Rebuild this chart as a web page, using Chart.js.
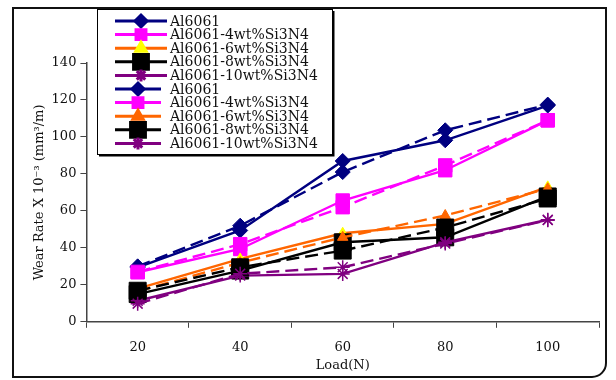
<!DOCTYPE html>
<html>
<head>
<meta charset="utf-8">
<script src="https://cdn.jsdelivr.net/npm/chart.js@4"></script>
<style>
  body { margin: 0; background: #fff; }
  #wrap { width: 616px; height: 380px; }
</style>
</head>
<body>
<div id="wrap"><canvas id="myChart" width="616" height="380"></canvas></div>
<script>
var loads = ['20', '40', '60', '80', '100'];
var seriesNames = ['Al6061', 'Al6061-4wt%Si3N4', 'Al6061-6wt%Si3N4', 'Al6061-8wt%Si3N4', 'Al6061-10wt%Si3N4'];
// solid lines
var al6061A = [29.5, 49.4, 87, 98.2, 117];
var si4A = [26.8, 39.4, 65.6, 82, 109];
var si6A = [17.9, 34, 47.9, 53, 73];
var si8A = [15, 27.7, 43, 45.7, 67.8];
var si10A = [11.4, 25, 25.9, 43, 55.2];
// dashed lines
var al6061B = [30, 52, 81, 103.6, 117.5];
var si4B = [27, 42, 62, 84.6, 109];
var si6B = [16.5, 32, 45.7, 57.5, 72];
var si8B = [16.8, 29.5, 38.5, 51, 66.7];
var si10B = [9.8, 26, 29.5, 42.3, 55];
var yTicks = [0, 20, 40, 60, 80, 100, 120, 140];

var serif = "'DejaVu Serif', serif";

function mk(label, values, color, pointStyle, radius, fill, dash, idx) {
  return {
    label: label,
    data: values,
    borderColor: color,
    backgroundColor: fill,
    pointBackgroundColor: fill,
    pointBorderColor: pointStyle === 'star' ? color : fill,
    pointStyle: pointStyle,
    pointRadius: radius,
    pointBorderWidth: pointStyle === 'star' ? 1.5 : 1,
    borderWidth: 2.4,
    borderDash: dash,
    tension: 0,
    order: 10 - idx
  };
}

var D = [13, 6];
var datasets = [
  mk(seriesNames[0], al6061A, '#000080', 'rectRot', 7.5, '#000080', [], 0),
  mk(seriesNames[1], si4A, '#ff00ff', 'rect', 9.5, '#ff00ff', [], 1),
  mk(seriesNames[2], si6A, '#ff6600', 'triangle', 6, '#ffff00', [], 2),
  mk(seriesNames[3], si8A, '#000000', 'rect', 12, '#000000', [], 3),
  mk(seriesNames[4], si10A, '#800080', 'star', 7, '#800080', [], 4),
  mk(seriesNames[0], al6061B, '#000080', 'rectRot', 7.5, '#000080', D, 5),
  mk(seriesNames[1], si4B, '#ff00ff', 'rect', 9.5, '#ff00ff', D, 6),
  mk(seriesNames[2], si6B, '#ff6600', 'triangle', 6, '#ff6600', D, 7),
  mk(seriesNames[3], si8B, '#000000', 'rect', 12, '#000000', D, 8),
  mk(seriesNames[4], si10B, '#800080', 'star', 7, '#800080', D, 9)
];

// outer frame and boxed legend
var framePlugin = {
  id: 'frame',
  afterDraw: function(chart) {
    var ctx = chart.ctx;
    ctx.save();
    ctx.strokeStyle = '#111';
    ctx.lineWidth = 2;
    ctx.beginPath();
    ctx.roundRect(13, 8, 593, 369, [0, 0, 14, 0]);
    ctx.stroke();

    // legend box
    var bx = 97, by = 9, bw = 235, bh = 145;
    ctx.fillStyle = '#fff';
    ctx.fillRect(bx, by, bw, bh);
    ctx.strokeStyle = '#000';
    ctx.lineWidth = 1;
    ctx.strokeRect(bx + 0.5, by + 0.5, bw, bh);
    ctx.lineWidth = 2;
    ctx.beginPath();
    ctx.moveTo(bx + 2, by + bh + 1.5);
    ctx.lineTo(bx + bw + 1.5, by + bh + 1.5);
    ctx.lineTo(bx + bw + 1.5, by + 2);
    ctx.stroke();

    ctx.font = '14px ' + serif;
    ctx.textBaseline = 'middle';
    chart.data.datasets.forEach(function(ds, i) {
      var y = by + 12 + i * 13.6;
      var x1 = bx + 18, x2 = i < 5 ? bx + 70 : bx + 64;
      ctx.save();
      ctx.strokeStyle = ds.borderColor;
      ctx.lineWidth = 3;
      ctx.setLineDash([]);
      ctx.beginPath();
      ctx.moveTo(x1, y);
      ctx.lineTo(x2, y);
      ctx.stroke();
      ctx.fillStyle = ds.pointBackgroundColor;
      ctx.strokeStyle = ds.pointBorderColor;
      var r = 6;
      if (ds.pointStyle === 'rect') r = ds.pointRadius > 10 ? 10.5 : 7;
      Chart.helpers.drawPoint(ctx, {
        pointStyle: ds.pointStyle,
        radius: r,
        rotation: 0,
        borderWidth: ds.pointBorderWidth
      }, (x1 + x2) / 2, y);
      ctx.restore();
      ctx.fillStyle = '#111';
      ctx.fillText(ds.label, bx + 73, y + 1);
    });
    ctx.restore();
  }
};

var ctx = document.getElementById('myChart').getContext('2d');
var chart = new Chart(ctx, {
  type: 'line',
  data: { labels: loads, datasets: datasets },
  options: {
    responsive: false,
    animation: false,
    layout: { padding: { left: 32, right: 17, top: 63, bottom: 7 } },
    plugins: {
      legend: { display: false },
      tooltip: { enabled: false }
    },
    scales: {
      x: {
        offset: true,
        grid: { offset: true, drawOnChartArea: false, color: '#444', tickLength: 6 },
        border: { color: '#444', width: 1.5 },
        ticks: { color: '#111', font: { family: serif, size: 13 }, padding: 12 },
        title: { display: true, text: 'Load(N)', color: '#111', font: { family: serif, size: 13 }, padding: { top: -10, bottom: 0 } }
      },
      y: {
        min: 0,
        max: 140,
        afterBuildTicks: function(axis) {
          axis.ticks = yTicks.map(function(v) { return { value: v }; });
        },
        grid: { drawOnChartArea: false, color: '#444', tickLength: 6 },
        border: { color: '#444', width: 1.5 },
        ticks: { color: '#111', font: { family: serif, size: 13 }, padding: 4 },
        title: { display: true, text: 'Wear Rate X 10\u207B\u00B3 (mm\u00B3/m)', color: '#111', font: { family: serif, size: 13 }, padding: { top: 0, bottom: 0 } }
      }
    }
  },
  plugins: [framePlugin]
});
</script>
</body>
</html>
